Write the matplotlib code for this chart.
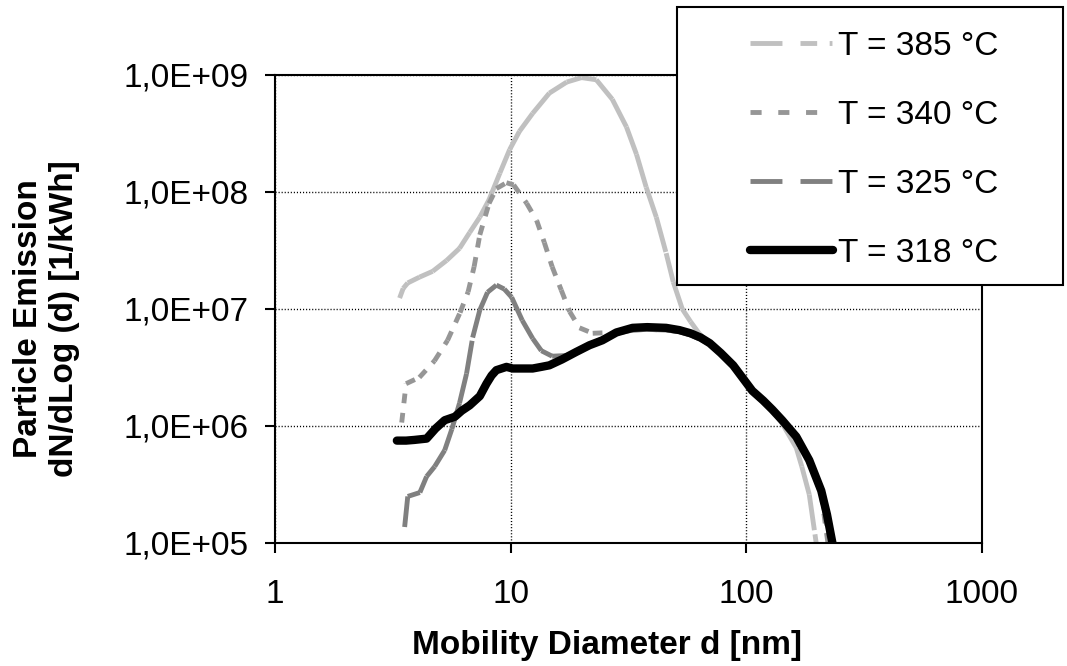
import numpy as np
import matplotlib
matplotlib.use('Agg')
import matplotlib.pyplot as plt
from matplotlib.collections import LineCollection
from matplotlib.lines import Line2D
from matplotlib.patches import Rectangle
from matplotlib.ticker import FixedLocator, FixedFormatter, NullLocator

plt.rcParams['font.family'] = ['Liberation Sans', 'DejaVu Sans']
plt.rcParams['lines.scale_dashes'] = False

labels = ['T = 385 °C', 'T = 340 °C', 'T = 325 °C', 'T = 318 °C']

# T = 385 °C
d385 = [3.38, 3.5, 3.66, 4.1, 4.67, 5.35, 6.07, 6.7, 7.4, 8.1, 9.0, 9.9, 10.9, 12.4,
        14.6, 17.3, 20, 23.1, 27, 31, 34.2, 37.6, 41.5, 45.7, 49, 53.5, 58, 63, 70,
        80, 90, 106, 129, 142, 163, 172, 185, 198]
n385 = [1.24e7, 1.5e7, 1.67e7, 1.87e7, 2.1e7, 2.6e7, 3.3e7, 4.5e7, 6.1e7, 8.6e7, 1.45e8,
        2.3e8, 3.3e8, 4.7e8, 7.0e8, 8.7e8, 9.5e8, 9.1e8, 6.2e8, 3.6e8, 2.1e8, 1.1e8,
        6.1e7, 3.0e7, 1.7e7, 1.0e7, 7.8e6, 6.2e6, 5.0e6, 3.9e6, 3.2e6, 2.0e6, 1.35e6,
        1.05e6, 6.5e5, 4.5e5, 2.6e5, 1.0e5]

# T = 340 °C
d340 = [3.45, 3.6, 4.1, 4.75, 5.4, 6.1, 6.6, 7.0, 7.4, 8.1, 8.7, 9.6, 10.3, 11.7, 12.9,
        13.9, 15.0, 16.4, 17.8, 19.6, 22.3, 27, 33, 38, 46, 52, 58, 64, 70, 78, 88, 106,
        129, 142, 163, 185, 208, 222]
n340 = [1.07e6, 2.3e6, 2.6e6, 3.6e6, 5.4e6, 9.3e6, 1.4e7, 2.3e7, 4.3e7, 8.0e7, 1.07e8,
        1.2e8, 1.15e8, 8.0e7, 5.7e7, 3.7e7, 2.3e7, 1.45e7, 9.5e6, 6.9e6, 6.2e6, 6.3e6,
        6.6e6, 6.7e6, 6.6e6, 6.4e6, 6.0e6, 5.5e6, 5.0e6, 4.1e6, 3.2e6, 1.95e6,
        1.35e6, 1.08e6, 7.8e5, 4.9e5, 2.6e5, 1.0e5]

# T = 325 °C
d325 = [3.55, 3.66, 4.12, 4.4, 4.76, 5.25, 5.63, 6.07, 6.5, 6.9, 7.4, 7.98, 8.7, 9.4,
        10.1, 11.2, 12.4, 13.5, 15.0, 17.2, 19.6, 22.3, 27, 33, 38, 46, 52, 58, 64, 70,
        78, 88, 106, 129, 142, 163, 185, 208, 225]
n325 = [1.37e5, 2.5e5, 2.7e5, 3.7e5, 4.5e5, 6.2e5, 9.4e5, 1.57e6, 2.8e6, 5.7e6, 9.8e6,
        1.39e7, 1.6e7, 1.48e7, 1.26e7, 8.0e6, 5.6e6, 4.4e6, 3.95e6, 4.0e6, 4.4e6, 5.1e6,
        6.1e6, 6.6e6, 6.7e6, 6.6e6, 6.4e6, 6.0e6, 5.5e6, 5.0e6, 4.1e6, 3.2e6, 1.95e6,
        1.35e6, 1.1e6, 7.9e5, 5.0e5, 2.7e5, 1.1e5]

# T = 318 °C
d318 = [3.29, 3.6, 3.9, 4.4, 4.8, 5.25, 5.8, 6.2, 6.7, 7.4, 7.9, 8.3, 8.7, 9.6, 10.2,
        11.2, 12.4, 13.5, 14.6, 16.5, 19.0, 21.6, 24.5, 28.1, 32.9, 38, 45.7, 52, 58, 64,
        70, 78, 88, 106, 118, 129, 142, 163, 185, 208, 220, 232]
n318 = [7.5e5, 7.5e5, 7.6e5, 7.8e5, 9.5e5, 1.12e6, 1.2e6, 1.35e6, 1.5e6, 1.8e6, 2.3e6,
        2.7e6, 3.0e6, 3.2e6, 3.1e6, 3.1e6, 3.1e6, 3.2e6, 3.3e6, 3.7e6, 4.3e6, 4.9e6,
        5.4e6, 6.3e6, 6.9e6, 7.0e6, 6.9e6, 6.6e6, 6.2e6, 5.7e6, 5.1e6, 4.2e6, 3.3e6,
        2.0e6, 1.65e6, 1.38e6, 1.12e6, 8.1e5, 5.1e5, 2.8e5, 1.75e5, 1.0e5]

x_ticks = [1, 10, 100, 1000]
x_ticklabels = ['1', '10', '100', '1000']
y_ticks = [1e5, 1e6, 1e7, 1e8, 1e9]
y_ticklabels = ['1,0E+05', '1,0E+06', '1,0E+07', '1,0E+08', '1,0E+09']

c385, c340, c325, c318 = '#c0c0c0', '#969696', '#808080', '#000000'
# legend patterns
dash385 = (23, 13, 12, 9, 2, 9)
dash340 = (8, 12)
dash325 = (23, 13)
# in the plot the pattern restarts on each short segment, so mostly the long dash shows
plot385 = (26, 3)
plot340 = (7, 7)
plot325 = (24, 5)

fig = plt.figure(figsize=(10.67, 6.66), dpi=100)
ax = fig.add_axes([0.2577, 0.1847, 0.6626, 0.7027])
ax.set_xscale('log')
ax.set_yscale('log')
ax.set_xlim(1, 1000)
ax.set_ylim(1e5, 1e9)


def dashed(x, y, color, dashes, lw):
    # excel restarts the dash pattern on every segment
    pts = np.column_stack([x, y])
    segs = np.stack([pts[:-1], pts[1:]], axis=1)
    lc = LineCollection(segs, colors=color, linewidths=lw,
                        linestyles=[(0, dashes)], capstyle='butt', zorder=2)
    ax.add_collection(lc, autolim=False)


dashed(d385, n385, c385, plot385, 3.5)
dashed(d340, n340, c340, plot340, 3.5)
dashed(d325, n325, c325, plot325, 3.5)
ax.plot(d318, n318, color=c318, lw=6, solid_joinstyle='round',
        solid_capstyle='round', zorder=3)

ax.xaxis.set_major_locator(FixedLocator(x_ticks))
ax.xaxis.set_major_formatter(FixedFormatter(x_ticklabels))
ax.yaxis.set_major_locator(FixedLocator(y_ticks))
ax.yaxis.set_major_formatter(FixedFormatter(y_ticklabels))
ax.xaxis.set_minor_locator(NullLocator())
ax.yaxis.set_minor_locator(NullLocator())

ax.grid(True, color='black', linestyle=(0, (0.8, 1.4)), lw=1)
ax.set_axisbelow(True)
for s in ax.spines.values():
    s.set_linewidth(1.5)
    s.set_zorder(4)
ax.tick_params(axis='both', direction='out', length=7, width=1.5, labelsize=24)
ax.tick_params(axis='x', pad=19)
ax.tick_params(axis='y', pad=12)

fig.text(0.0436, 0.521, 'Particle Emission\ndN/dLog (d) [1/kWh]', rotation=90,
         ha='center', va='center', multialignment='center', fontsize=24,
         fontweight='bold')
fig.text(0.569, 0.0315, 'Mobility Diameter d [nm]', ha='center', va='center',
         fontsize=24, fontweight='bold')

# legend box sits over the plot area
box = Rectangle((677 / 1067, 1 - 285 / 666), 386 / 1067, 278 / 666,
                transform=fig.transFigure, facecolor='white', edgecolor='black',
                lw=1.5, zorder=4)
fig.add_artist(box)

handles = [
    Line2D([], [], color=c385, lw=3.5, dashes=dash385, dash_capstyle='butt'),
    Line2D([], [], color=c340, lw=3.5, dashes=dash340, dash_capstyle='butt'),
    Line2D([], [], color=c325, lw=3.5, dashes=dash325, dash_capstyle='butt'),
    Line2D([], [], color=c318, lw=6, solid_capstyle='round'),
]
fig.legend(handles, labels, loc='upper left', bbox_to_anchor=(750 / 1067, 1 - 31 / 666),
           bbox_transform=fig.transFigure, frameon=False, fontsize=24,
           handlelength=2.5, handletextpad=0.15, labelspacing=1.14,
           borderpad=0, borderaxespad=0)

fig.savefig('out.png', dpi=100)
